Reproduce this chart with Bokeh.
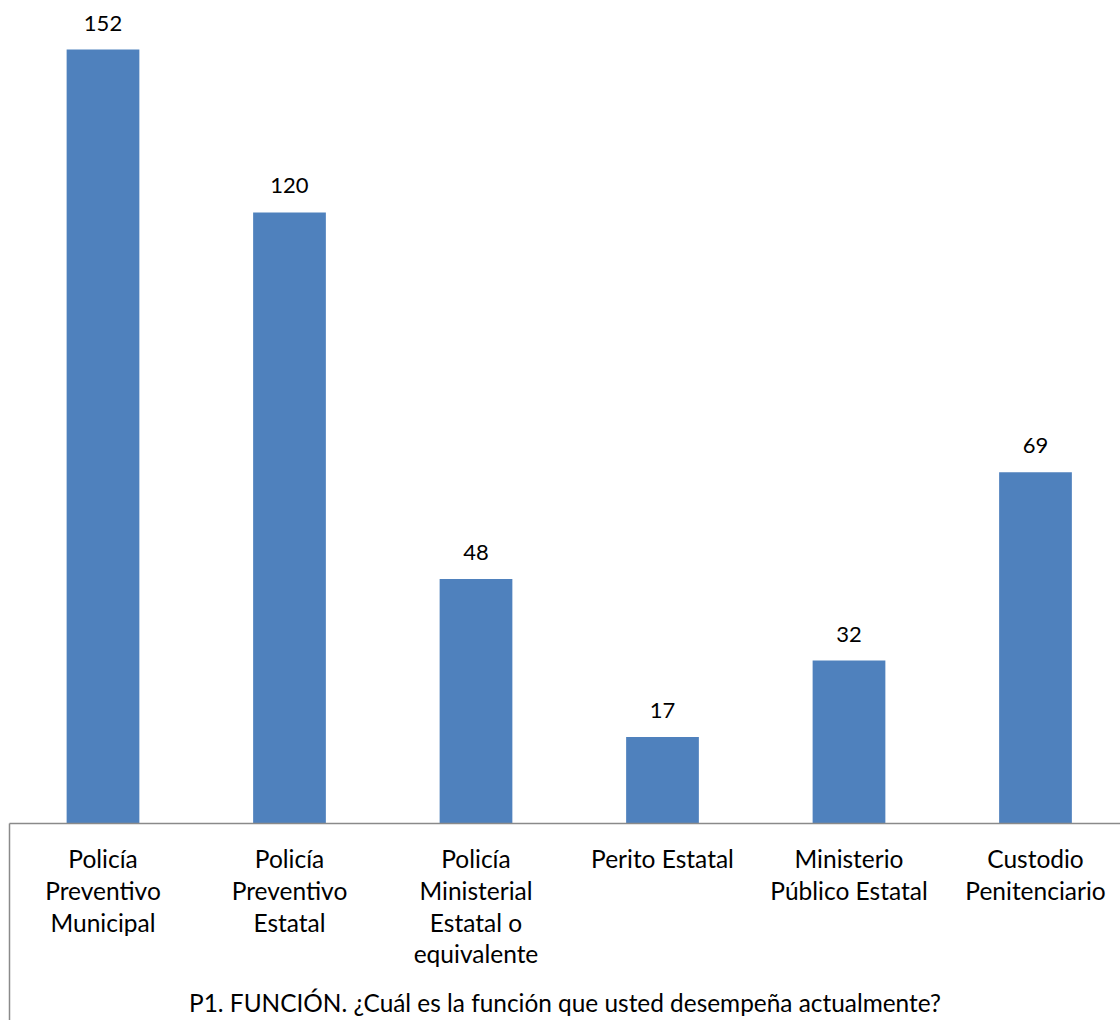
from bokeh.plotting import figure
from bokeh.models import ColumnDataSource, Range1d, FixedTicker, LabelSet
from bokeh.core.properties import value
from bokeh.embed import file_html
from bokeh.resources import INLINE

categories = [
    "Policía\nPreventivo\nMunicipal",
    "Policía\nPreventivo\nEstatal",
    "Policía\nMinisterial\nEstatal o\nequivalente",
    "Perito Estatal",
    "Ministerio\nPúblico Estatal",
    "Custodio\nPenitenciario",
]
values = [152, 120, 48, 17, 32, 69]
axis_title = "P1. FUNCIÓN. ¿Cuál es la función que usted desempeña actualmente?"

FONT = "Lato"
BLUE = "#4F81BD"
GRAY = "#8a8a8a"

idx = list(range(len(categories)))
src = ColumnDataSource(dict(x=idx, top=values, lbl=[str(v) for v in values]))

x_lo, x_hi = -0.5496, 5.4558
y_lo, y_hi = -38.69, 161.63
p = figure(width=1120, height=1020, output_backend="svg", toolbar_location=None,
           x_range=Range1d(x_lo, x_hi), y_range=Range1d(y_lo, y_hi),
           min_border=0, min_border_left=0, min_border_right=0,
           min_border_top=0, min_border_bottom=0)
p.outline_line_color = None
p.xgrid.grid_line_color = None
p.ygrid.grid_line_color = None
p.background_fill_color = "white"
p.border_fill_color = "white"

p.vbar(x="x", top="top", bottom=0, width=0.39, source=src,
       fill_color=BLUE, line_color=None)

labels = LabelSet(x="x", y="top", text="lbl", source=src, y_offset=19,
                  text_align="center", text_baseline="alphabetic",
                  text_font=value(FONT), text_font_size=value("22px"),
                  text_color="black")
p.add_layout(labels)

xa = p.xaxis[0]
xa.fixed_location = 0
xa.bounds = (-0.5, x_hi)
xa.ticker = FixedTicker(ticks=idx)
xa.major_label_overrides = {i: c for i, c in zip(idx, categories)}
xa.major_tick_line_color = None
xa.minor_tick_line_color = None
xa.axis_line_color = GRAY
xa.axis_line_width = 1.5
xa.major_label_text_font = FONT
xa.major_label_text_font_size = "24.5px"
xa.major_label_text_color = "black"
xa.major_label_text_line_height = 1.09
xa.major_label_standoff = 15
xa.axis_label = axis_title
xa.axis_label_text_font = FONT
xa.axis_label_text_font_size = "24.4px"
xa.axis_label_text_font_style = "normal"
xa.axis_label_text_color = "black"
xa.axis_label_standoff = 17

ya = p.yaxis[0]
ya.fixed_location = -0.5
ya.bounds = (y_lo, 0)
ya.axis_line_color = GRAY
ya.axis_line_width = 1.5
ya.major_tick_line_color = None
ya.minor_tick_line_color = None
ya.major_label_text_font_size = "0px"
ya.major_label_text_alpha = 0

open("out.html", "w").write(file_html(p, INLINE))
